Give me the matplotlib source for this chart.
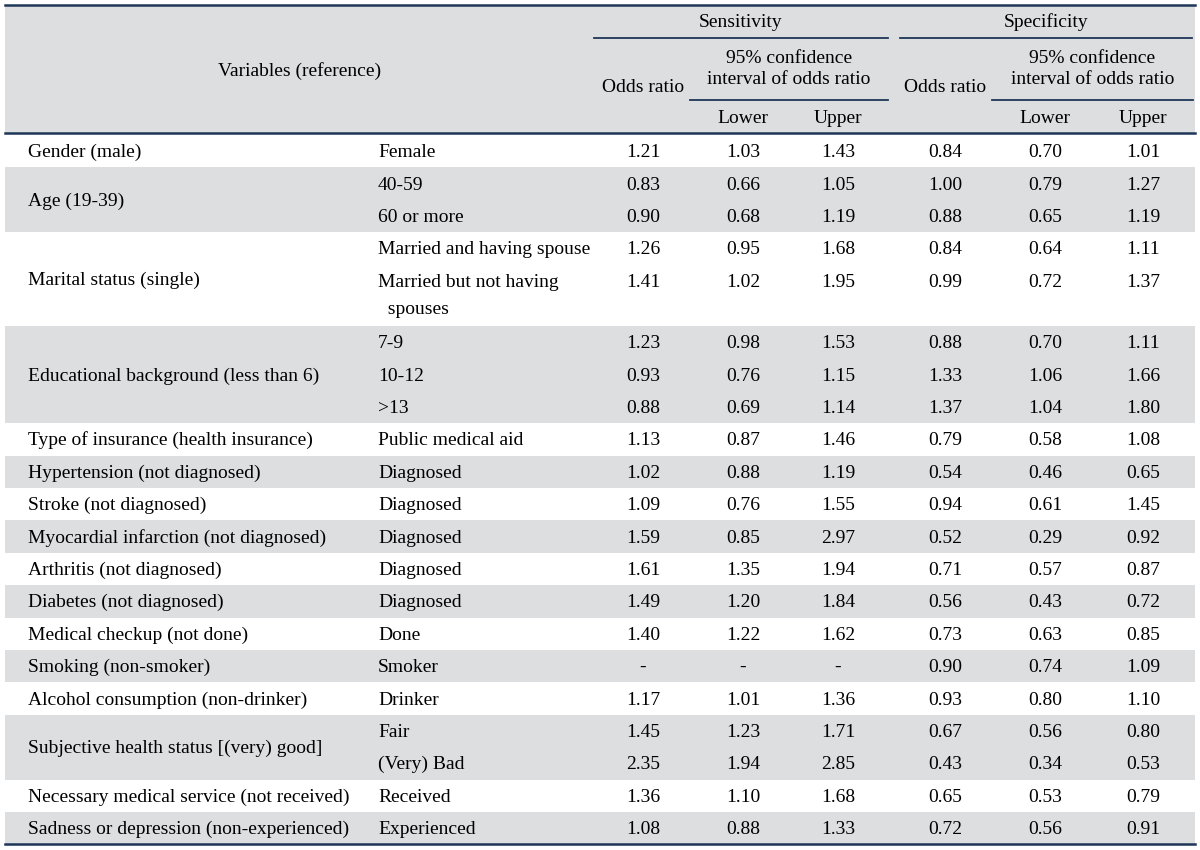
import matplotlib.pyplot as plt
from matplotlib.patches import Rectangle

variables = ['Gender (male)', 'Age (19-39)', 'Marital status (single)',
             'Educational background (less than 6)', 'Type of insurance (health insurance)',
             'Hypertension (not diagnosed)', 'Stroke (not diagnosed)',
             'Myocardial infarction (not diagnosed)', 'Arthritis (not diagnosed)',
             'Diabetes (not diagnosed)', 'Medical checkup (not done)', 'Smoking (non-smoker)',
             'Alcohol consumption (non-drinker)', 'Subjective health status [(very) good]',
             'Necessary medical service (not received)', 'Sadness or depression (non-experienced)']
categories = [['Female'], ['40-59', '60 or more'],
              ['Married and having spouse', 'Married but not having\n  spouses'],
              ['7-9', '10-12', '>13'], ['Public medical aid'], ['Diagnosed'], ['Diagnosed'],
              ['Diagnosed'], ['Diagnosed'], ['Diagnosed'], ['Done'], ['Smoker'], ['Drinker'],
              ['Fair', '(Very) Bad'], ['Received'], ['Experienced']]

sens_or = [1.21, 0.83, 0.90, 1.26, 1.41, 1.23, 0.93, 0.88, 1.13, 1.02, 1.09, 1.59, 1.61, 1.49, 1.40, None, 1.17, 1.45, 2.35, 1.36, 1.08]
sens_lo = [1.03, 0.66, 0.68, 0.95, 1.02, 0.98, 0.76, 0.69, 0.87, 0.88, 0.76, 0.85, 1.35, 1.20, 1.22, None, 1.01, 1.23, 1.94, 1.10, 0.88]
sens_up = [1.43, 1.05, 1.19, 1.68, 1.95, 1.53, 1.15, 1.14, 1.46, 1.19, 1.55, 2.97, 1.94, 1.84, 1.62, None, 1.36, 1.71, 2.85, 1.68, 1.33]
spec_or = [0.84, 1.00, 0.88, 0.84, 0.99, 0.88, 1.33, 1.37, 0.79, 0.54, 0.94, 0.52, 0.71, 0.56, 0.73, 0.90, 0.93, 0.67, 0.43, 0.65, 0.72]
spec_lo = [0.70, 0.79, 0.65, 0.64, 0.72, 0.70, 1.06, 1.04, 0.58, 0.46, 0.61, 0.29, 0.57, 0.43, 0.63, 0.74, 0.80, 0.56, 0.34, 0.53, 0.56]
spec_up = [1.01, 1.27, 1.19, 1.11, 1.37, 1.11, 1.66, 1.80, 1.08, 0.65, 1.45, 0.92, 0.87, 0.72, 0.85, 1.09, 1.10, 0.80, 0.53, 0.79, 0.91]

value_cols = [sens_or, sens_lo, sens_up, spec_or, spec_lo, spec_up]

plt.rcParams['font.family'] = ['Liberation Serif', 'DejaVu Serif']
fs = 14
gray = '#dcdedf'
navy = '#1f3658'

fig = plt.figure(figsize=(12, 8.5), dpi=100)
ax = fig.add_axes([0, 0, 1, 1])
ax.set_xlim(0, 1200)
ax.set_ylim(850, 0)
ax.axis('off')

x0, x1 = 5, 1195
col_x = [643, 743, 838, 945, 1045, 1143]
var_x = 28
cat_x = 378
head_top, head_bot = 5, 133
row_h = 32.4
extra_line = 29
base_off = 6  # baseline below row centre

# header
ax.add_patch(Rectangle((x0, head_top), x1 - x0, head_bot - head_top, color=gray, lw=0))
ax.text(300, 71, 'Variables (reference)', ha='center', va='center', fontsize=fs)
for xa, xb, name in [(594, 888, 'Sensitivity'), (900, 1192, 'Specificity')]:
    ax.text((xa + xb) / 2, 22, name, ha='center', va='center', fontsize=fs)
    ax.plot([xa, xb], [38, 38], color=navy, lw=1.3)
for i in (0, 3):
    ax.text(col_x[i], 87, 'Odds ratio', ha='center', va='center', fontsize=fs)
    xa = col_x[i + 1] - 53
    xb = col_x[i + 2] + 50
    ax.text((xa + xb) / 2, 69, '95% confidence\ninterval of odds ratio', ha='center',
            va='center', fontsize=fs, linespacing=1.3)
    ax.plot([xa, xb], [100, 100], color=navy, lw=1.3)
    ax.text(col_x[i + 1], 118, 'Lower', ha='center', va='center', fontsize=fs)
    ax.text(col_x[i + 2], 118, 'Upper', ha='center', va='center', fontsize=fs)

# body
y = head_bot + 2
r = 0
for g, (var, cats) in enumerate(zip(variables, categories)):
    heights = [row_h + extra_line * c.count('\n') for c in cats]
    gh = sum(heights)
    if g % 2 == 1:
        ax.add_patch(Rectangle((x0, y), x1 - x0, gh, color=gray, lw=0))
    ax.text(var_x, y + gh / 2 + base_off, var, ha='left', va='baseline', fontsize=fs)
    yy = y
    for c, h in zip(cats, heights):
        ty = yy + row_h / 2 + base_off
        lines = c.split('\n')
        for k, line in enumerate(lines):
            ax.text(cat_x, ty + 27 * k, line.replace('  ', '\u2002'), ha='left',
                    va='baseline', fontsize=fs)
        for cx, col in zip(col_x, value_cols):
            v = col[r]
            s = '-' if v is None else f'{v:.2f}'
            ax.text(cx, ty, s, ha='center', va='baseline', fontsize=fs)
        yy += h
        r += 1
    y += gh

# rules
ax.plot([x0, x1], [head_top, head_top], color=navy, lw=1.8)
ax.plot([x0, x1], [head_bot, head_bot], color=navy, lw=1.8)
ax.plot([x0, x1], [y, y], color=navy, lw=1.8)

fig.savefig('out.png', dpi=100)
